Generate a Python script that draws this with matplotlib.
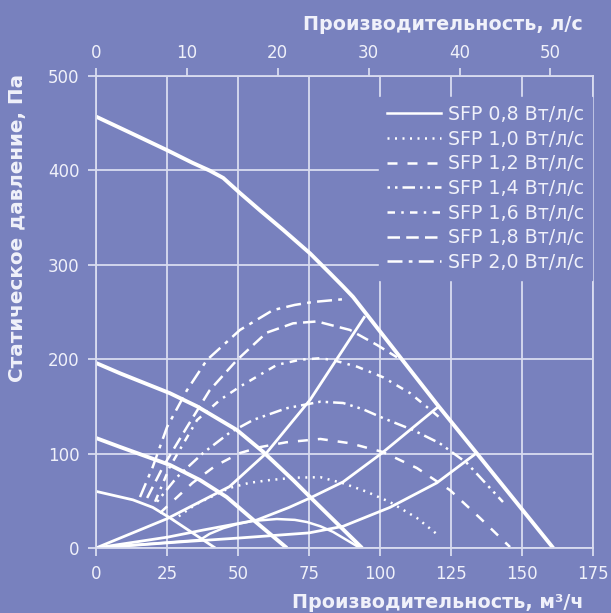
import matplotlib
matplotlib.use('Agg')
import matplotlib.pyplot as plt
import matplotlib.lines as mlines

plt.rcParams['font.family'] = ['DejaVu Sans']

BG = '#7881be'
FG = '#ffffff'
GRID = '#d9dcf0'
TXT = '#f0f1fa'

# fan curves (m3/h, Pa)
f1_x = [0, 12, 24.9, 34, 40.1, 44.8, 50.7, 58, 65.9, 75.4, 82.4, 87, 90.5, 120.4, 134, 161]
f1_y = [457, 440, 421.6, 408, 399.7, 392, 376, 357, 337, 312, 291, 277, 266, 151, 100.6, 0]
f2_x = [0, 8.5, 26, 35.6, 49.6, 58.8, 69.4, 76.4, 93.7]
f2_y = [196, 185, 164, 150, 125, 102, 72, 51, 0]
f3_x = [0, 8.5, 26, 36.6, 46, 55.3, 67.2]
f3_y = [116.5, 107, 88, 72, 54, 30, 0]
f4_x = [0, 13, 20, 26, 34, 42]
f4_y = [60, 51, 43, 32, 16, 0]
f5_x = [0, 36.6, 40, 44.8, 50, 55, 63.7, 70, 74.3, 79, 83.5, 93]
f5_y = [0, 8.5, 15, 21, 25.5, 28.6, 30.7, 29.8, 27.5, 23, 17, 0]

# system curves
s1_x = [0, 25, 47, 60, 75.4, 94.7]
s1_y = [0, 31, 65, 100.6, 157, 245.6]
s2_x = [0, 25.4, 37.7, 56.6, 68, 75.4, 87, 100.7, 120.4]
s2_y = [0, 11.6, 19, 29.6, 43, 53, 70, 100.6, 149.4]
s3_x = [0, 30, 50, 75, 87, 103.5, 120, 134]
s3_y = [0, 6.5, 10.5, 16, 23, 43, 69, 100.6]

# SFP iso-lines
sfp_labels = ['SFP 0,8 Вт/л/с', 'SFP 1,0 Вт/л/с', 'SFP 1,2 Вт/л/с', 'SFP 1,4 Вт/л/с',
              'SFP 1,6 Вт/л/с', 'SFP 1,8 Вт/л/с', 'SFP 2,0 Вт/л/с']
sfp10_x = [27, 35, 47, 54, 61.3, 70, 79, 87, 95, 103.5, 113, 120.4]
sfp10_y = [29, 46, 63.6, 69, 72, 74.5, 75, 68.6, 60, 48.7, 31.8, 13.8]
sfp12_x = [22.5, 34, 42, 50.7, 58, 67, 79, 89.4, 101, 113, 124.6, 135.2, 145.8]
sfp12_y = [37, 69, 87, 100.6, 107, 112, 115.5, 111, 101.7, 84.7, 61.4, 31.8, 1]
sfp14_x = [21.5, 28.5, 37.7, 47, 55.3, 67, 79, 87, 94, 101, 111.6, 121, 130.6, 143.3]
sfp14_y = [49, 75, 100.6, 122, 135.6, 148, 155, 153.6, 147, 137.7, 125, 111, 90, 48.7]
sfp16_x = [20.8, 26, 35.6, 43.7, 50.7, 63.7, 72, 79, 83.5, 92, 101, 110.6, 118.7, 122]
sfp16_y = [49, 86, 135.6, 157, 171, 194, 199.5, 201, 199, 192, 181, 164, 144, 135.6]
sfp18_x = [18, 23.6, 32, 40, 49.6, 60, 69.4, 77.8, 89.4, 99, 106]
sfp18_y = [53, 86, 128, 167, 199, 228, 238, 240, 231, 215, 202]
sfp20_x = [15.5, 20, 25, 32, 39, 50.7, 62.3, 70, 76.4, 88.7]
sfp20_y = [54, 86, 128, 167, 199, 231, 252, 257.5, 260.6, 264]

x_ticks = [0, 25, 50, 75, 100, 125, 150, 175]
y_ticks = [0, 100, 200, 300, 400, 500]
top_ticks = [0, 10, 20, 30, 40, 50]
LS_PER_M3H = 3.2

fig = plt.figure(figsize=(6.11, 6.13), dpi=100, facecolor=BG)
ax = fig.add_axes([96 / 611, 1 - 548 / 613, 497 / 611, 472 / 613])
ax.set_facecolor(BG)

kw = dict(color=FG, solid_joinstyle='round', solid_capstyle='butt')
ax.plot(f1_x, f1_y, lw=2.8, **kw)
ax.plot(f2_x, f2_y, lw=2.8, **kw)
ax.plot(f3_x, f3_y, lw=2.8, **kw)
ax.plot(f4_x, f4_y, lw=2.0, **kw)
ax.plot(f5_x, f5_y, lw=1.8, **kw)
ax.plot(s1_x, s1_y, lw=2.0, **kw)
ax.plot(s2_x, s2_y, lw=2.0, **kw)
ax.plot(s3_x, s3_y, lw=2.0, **kw)

dkw = dict(color=FG, lw=1.8, dash_capstyle='butt')
sfp_lines = [
    ax.plot(sfp10_x, sfp10_y, ls=(0, (0.8, 2.2)), **dkw)[0],
    ax.plot(sfp12_x, sfp12_y, ls=(0, (4, 4)), **dkw)[0],
    ax.plot(sfp14_x, sfp14_y, ls=(0, (1, 2, 1, 2, 5, 2)), **dkw)[0],
    ax.plot(sfp16_x, sfp16_y, ls=(0, (3, 2.5, 1, 2.5)), **dkw)[0],
    ax.plot(sfp18_x, sfp18_y, ls=(0, (5, 2.5)), **dkw)[0],
    ax.plot(sfp20_x, sfp20_y, ls=(0, (6, 2.5, 1.5, 2.5)), **dkw)[0],
]

ax.set_xlim(0, 175)
ax.set_ylim(0, 500)
ax.set_xticks(x_ticks)
ax.set_yticks(y_ticks)
ax.grid(True, color=GRID, lw=1.3)
ax.set_axisbelow(True)
for s in ax.spines.values():
    s.set_color(GRID)
    s.set_linewidth(1.3)
ax.tick_params(colors=GRID, labelcolor=TXT, labelsize=12, length=6, width=1.3, pad=6)

top = ax.secondary_xaxis('top', functions=(lambda v: v / LS_PER_M3H, lambda v: v * LS_PER_M3H))
top.set_xticks(top_ticks)
top.spines['top'].set_visible(False)
top.tick_params(colors=GRID, labelcolor=TXT, labelsize=12, length=6, width=1.3, pad=4)

# legend handle for the 0.8 line drawn thinner, like in the reference
h08 = mlines.Line2D([], [], color=FG, lw=1.8)
leg = ax.legend([h08] + sfp_lines, sfp_labels, loc='upper right',
                bbox_to_anchor=(0.997, 0.955), frameon=True,
                facecolor=BG, edgecolor=BG, framealpha=1, fancybox=False,
                fontsize=13.7, handlelength=2.85, handletextpad=0.35,
                labelspacing=0.3, borderpad=0.4, borderaxespad=0)
for t in leg.get_texts():
    t.set_color(TXT)

fig.text(583 / 611, 1 - 25 / 613, 'Производительность, л/с', ha='right', va='center',
         color=TXT, fontsize=13.8, fontweight='bold')
fig.text(583 / 611, 1 - 603 / 613, 'Производительность, м³/ч', ha='right', va='center',
         color=TXT, fontsize=13.8, fontweight='bold')
fig.text(18 / 611, 1 - 228 / 613, 'Статическое давление, Па', ha='center', va='center',
         rotation=90, color=TXT, fontsize=14.3, fontweight='bold')

fig.savefig('out.png', dpi=100, facecolor=BG)
